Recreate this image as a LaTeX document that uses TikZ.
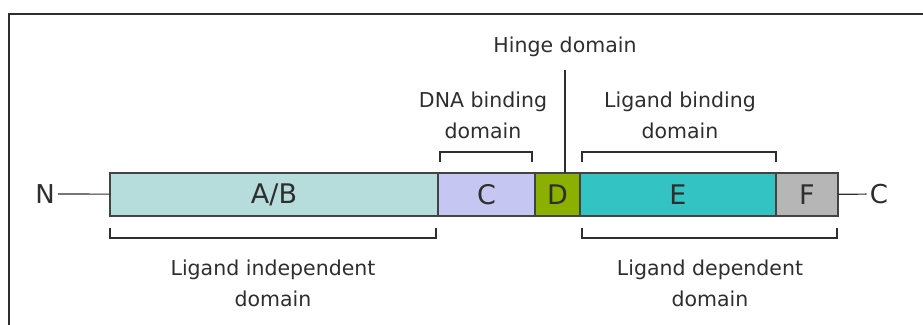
\documentclass[tikz,border=0pt]{standalone}
\usepackage{fontspec}
\setmainfont{DejaVu Sans}
\definecolor{abcol}{HTML}{B6DCDC}
\definecolor{ccol}{HTML}{C6C6F2}
\definecolor{dcol}{HTML}{8CB000}
\definecolor{ecol}{HTML}{33C3C3}
\definecolor{fcol}{HTML}{B6B6B6}
\definecolor{ink}{HTML}{2E2E2E}
\begin{document}
\begin{tikzpicture}[
    x=1pt, y=-1pt,
    seg/.style={rectangle, draw=ink!90, line width=1.3pt, minimum height=43pt, inner sep=0pt, outer sep=0pt, text=ink, font=\fontsize{27}{30}\selectfont},
    lbl/.style={align=center, text=ink, inner sep=0pt, font=\fontsize{20.5}{31}\selectfont},
    endlbl/.style={text=ink, inner sep=3pt, font=\fontsize{26}{28}\selectfont},
    brace/.style={draw=ink, line width=1.2pt},
    link/.style={draw=ink, line width=1.2pt}
]
    \useasboundingbox (0,0) rectangle (923,324);
    % frame
    \draw[ink, line width=2pt] (9,330) -- (9,14) -- (930,14);

    % domains of the receptor
    \node[seg, fill=abcol, minimum width=328pt] (ab) at (274,194.5) {A/B};
    \node[seg, fill=ccol, minimum width=97pt] (c) at (486.5,194.5) {C};
    \node[seg, fill=dcol, minimum width=45pt] (d) at (557.5,194.5) {D};
    \node[seg, fill=ecol, minimum width=196pt] (e) at (678,194.5) {E};
    \node[seg, fill=fcol, minimum width=62pt] (f) at (807,194.5) {F};

    % termini
    \node[endlbl] (nterm) at (45,194) {N};
    \node[endlbl] (cterm) at (879,194) {C};
    \draw[link] (nterm) -- (ab);
    \draw[link] (f) -- (cterm);

    % hinge
    \node[lbl] (hinge) at (565,47) {Hinge domain};
    \coordinate (hingetop) at (565,70);
    \draw[link] (hingetop) -- (hingetop |- d.north);

    % upper brackets
    \node[lbl] (dbd) at (483,115) {DNA binding\\domain};
    \draw[brace] (440,162) -- (440,152) -- (532,152) -- (532,162);
    \node[lbl] (lbd) at (680,115) {Ligand binding\\domain};
    \draw[brace] (582,162) -- (582,152) -- (776,152) -- (776,162);

    % lower brackets
    \draw[brace] (110,228) -- (110,238) -- (436,238) -- (436,228);
    \node[lbl] (lid) at (273,283) {Ligand independent\\domain};
    \draw[brace] (582,228) -- (582,238) -- (837,238) -- (837,228);
    \node[lbl] (ldd) at (710,283) {Ligand dependent\\domain};
\end{tikzpicture}
\end{document}
